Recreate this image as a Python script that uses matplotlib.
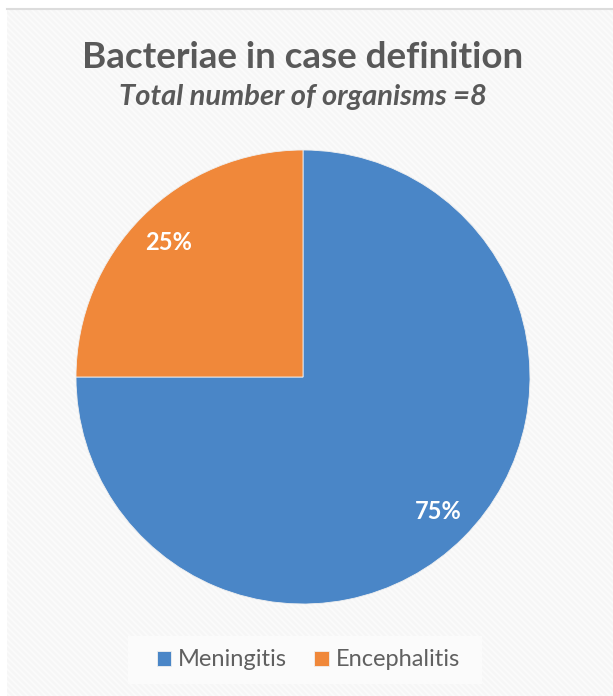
import matplotlib.pyplot as plt
from matplotlib.patches import Rectangle
import numpy as np

# data
categories = ["Meningitis", "Encephalitis"]
counts = [6, 2]
colors = ["#4a86c7", "#f0883a"]

title = "Bacteriae in case definition"
subtitle = "Total number of organisms =8"

W, H = 613, 696
fig = plt.figure(figsize=(W / 100, H / 100), dpi=100)
fig.patch.set_facecolor("white")

# chart area background (light, faint diagonal stripes)
bg = fig.add_axes([0, 0, 1, 1])
bg.set_xlim(0, W)
bg.set_ylim(H, 0)
bg.axis("off")
bg.add_patch(Rectangle((7, 8), W - 7, H - 8, facecolor="#f6f6f6", edgecolor="none"))
for x0 in np.arange(-H, W, 6):
    bg.plot([x0, x0 + H], [8, H + 8], color="white", lw=1.2, alpha=0.6, zorder=1)
bg.add_patch(Rectangle((0, 0), W, 8, facecolor="white", edgecolor="none", zorder=2))
bg.add_patch(Rectangle((0, 0), 7, H, facecolor="white", edgecolor="none", zorder=2))
bg.plot([7, W], [8.5, 8.5], color="#dcdcdc", lw=1.5, zorder=3)
# legend band
bg.add_patch(Rectangle((128, 636), 354, 48, facecolor="#fbfbfb", edgecolor="none", zorder=2))

# pie axes: centre (303, 377), radius 227 px
cx, cy, r = 303, 377, 227
ax = fig.add_axes([(cx - r) / W, (H - cy - r) / H, 2 * r / W, 2 * r / H])
wedges, texts, autotexts = ax.pie(
    counts, colors=colors, startangle=90, counterclock=False,
    autopct="%1.0f%%", pctdistance=0.84,
    wedgeprops=dict(edgecolor="#f0f0f0", linewidth=0.6),
    textprops=dict(color="white", fontsize=17, fontweight="bold", family="Lato"),
)
ax.set_xlim(-1, 1)
ax.set_ylim(-1, 1)
ax.set_aspect("auto")

fig.text(303 / W, 1 - 57 / H, title, ha="center", va="center",
         fontsize=26.5, fontweight="bold", color="#595959", family="Lato")
fig.text(303 / W, 1 - 97 / H, subtitle, ha="center", va="center",
         fontsize=21, fontweight="bold", fontstyle="italic", color="#595959", family="Lato")

leg = fig.legend(wedges, categories, loc="center", bbox_to_anchor=(308.5 / W, 1 - 660 / H),
                 ncol=2, frameon=False, handlelength=0.6, handleheight=0.6,
                 handletextpad=0.3, columnspacing=1.15,
                 prop=dict(family="Lato", size=17))
for t in leg.get_texts():
    t.set_color("#606060")

fig.savefig("out.png", dpi=100)
